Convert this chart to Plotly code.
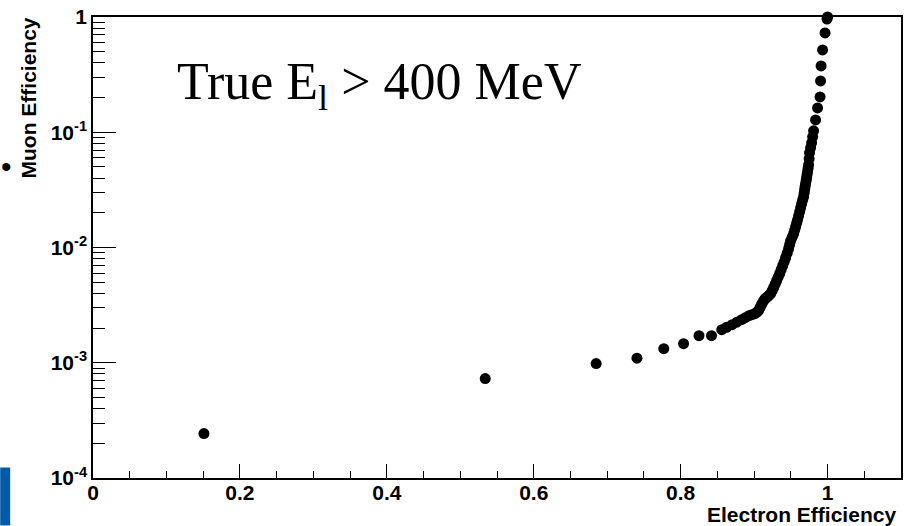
import plotly.graph_objects as go

# Electron efficiency (x) vs muon efficiency (y)
electron_eff = [0.151, 0.534, 0.685, 0.7405, 0.777, 0.804, 0.825, 0.842, 0.856, 0.8625,
                0.870, 0.8765, 0.883, 0.888, 0.893, 0.897, 0.901, 0.904, 0.906, 0.908,
                0.910, 0.912, 0.914, 0.916, 0.9185, 0.9205, 0.9226, 0.9246, 0.9266, 0.9287,
                0.9307, 0.9327, 0.9348, 0.9368, 0.9389, 0.941, 0.9429, 0.945, 0.947, 0.9484,
                0.9497, 0.9518, 0.9538, 0.9552, 0.9565, 0.9579, 0.9592, 0.9606, 0.962, 0.9633,
                0.9647, 0.966, 0.9674, 0.9681, 0.9688, 0.9694, 0.9701, 0.9708, 0.9715, 0.9721,
                0.9728, 0.9735, 0.9742, 0.9749, 0.9755, 0.9769, 0.9783, 0.9797, 0.981, 0.9837,
                0.9864, 0.9898, 0.9905, 0.9912, 0.9932, 0.9966, 0.9993, 1.0]
muon_eff = [2.43e-4, 7.29e-4, 9.83e-4, 1.096e-3, 1.326e-3, 1.465e-3, 1.718e-3, 1.718e-3, 1.937e-3, 2.03e-3,
            2.140e-3, 2.25e-3, 2.365e-3, 2.46e-3, 2.562e-3, 2.61e-3, 2.666e-3, 2.75e-3, 2.830e-3, 3.0e-3,
            3.190e-3, 3.36e-3, 3.524e-3, 3.63e-3, 3.741e-3, 3.86e-3, 3.972e-3, 4.22e-3, 4.478e-3, 4.80e-3,
            5.148e-3, 5.52e-3, 5.922e-3, 6.41e-3, 6.947e-3, 7.52e-3, 8.150e-3, 8.92e-3, 9.754e-3, 1.057e-2,
            1.144e-2, 1.227e-2, 1.316e-2, 1.411e-2, 1.513e-2, 1.623e-2, 1.740e-2, 1.884e-2, 2.041e-2, 2.21e-2,
            2.394e-2, 2.57e-2, 2.754e-2, 2.95e-2, 3.166e-2, 3.36e-2, 3.569e-2, 3.79e-2, 4.023e-2, 4.27e-2,
            4.535e-2, 4.86e-2, 5.215e-2, 5.877e-2, 6.627e-2, 7.32e-2, 8.088e-2, 9.12e-2, 0.1028, 0.1280,
            0.1627, 0.2025, 0.2788, 0.3761, 0.5176, 0.7268, 0.9610, 1.0]

x_tickvals = [0, 0.2, 0.4, 0.6, 0.8, 1.0]
x_ticktext = ["0", "0.2", "0.4", "0.6", "0.8", "1"]
y_tickvals = [1e-4, 1e-3, 1e-2, 1e-1, 1]
y_ticktext = ["10<sup>-4</sup>", "10<sup>-3</sup>", "10<sup>-2</sup>", "10<sup>-1</sup>", "1"]
y_minor = [k * 10.0 ** d for d in range(-4, 0) for k in range(2, 10)]
x_minor = [i * 0.05 for i in range(0, 23)]

label_text = "True E<sub>l</sub> &gt; 400 MeV"
x_title = "Electron Efficiency"
y_title = "Muon Efficiency"

SANS = "Liberation Sans, Arial, sans-serif"
SERIF = "Liberation Serif, Times New Roman, serif"

fig = go.Figure()
fig.add_trace(go.Scatter(
    x=electron_eff, y=muon_eff, mode="markers",
    marker=dict(symbol="circle", size=11, color="black", line=dict(width=0)),
    cliponaxis=False, showlegend=False,
))

fig.update_layout(
    width=908, height=526,
    margin=dict(l=93, r=5, t=17, b=48),
    paper_bgcolor="white", plot_bgcolor="white",
    showlegend=False,
    xaxis=dict(
        range=[0, 1.1], showgrid=False, zeroline=False,
        showline=True, mirror=True, linecolor="black", linewidth=1.5,
        tickmode="array", tickvals=x_tickvals, ticktext=x_ticktext,
        ticks="inside", ticklen=14, tickwidth=1.2, tickcolor="black",
        ticklabelstandoff=-5,
        tickfont=dict(family=SANS, size=21, color="black", weight="bold"),
        minor=dict(tickmode="array", tickvals=x_minor, ticks="inside",
                   ticklen=7, tickwidth=1.2, tickcolor="black", showgrid=False),
    ),
    yaxis=dict(
        type="log", range=[-4, 0], showgrid=False, zeroline=False,
        showline=True, mirror=True, linecolor="black", linewidth=1.5,
        tickmode="array", tickvals=y_tickvals, ticktext=y_ticktext,
        ticks="inside", ticklen=23, tickwidth=1.2, tickcolor="black",
        tickfont=dict(family=SANS, size=21, color="black", weight="bold"),
        minor=dict(tickmode="array", tickvals=y_minor, ticks="inside",
                   ticklen=12, tickwidth=1.2, tickcolor="black", showgrid=False),
    ),
)

fig.add_annotation(
    text=label_text, xref="paper", yref="paper", x=(175 - 93) / 809.6, y=(478.5 - 86) / 461.5,
    xanchor="left", yanchor="middle", showarrow=False,
    font=dict(family=SERIF, size=52, color="black"),
)
fig.add_annotation(
    text=x_title, xref="paper", yref="paper", x=1, y=0, xanchor="right", yanchor="middle",
    yshift=-36, xshift=-3, showarrow=False,
    font=dict(family=SANS, size=21, color="black", weight="bold"),
)
fig.add_annotation(
    text=y_title, xref="paper", yref="paper", x=0, y=1, xanchor="center", yanchor="top",
    xshift=-65, yshift=1, textangle=-90, showarrow=False,
    font=dict(family=SANS, size=21, color="black", weight="bold"),
)
# slide decorations
fig.add_annotation(
    text="•", xref="paper", yref="paper", x=(6 - 93) / 809.6, y=(478.5 - 167) / 461.5,
    xanchor="center", yanchor="middle", showarrow=False,
    font=dict(family=SANS, size=30, color="black"),
)
fig.add_shape(type="rect", xref="paper", yref="paper",
              x0=-93 / 809.6, x1=(10 - 93) / 809.6,
              y0=(478.5 - 526) / 461.5, y1=(478.5 - 468) / 461.5,
              fillcolor="#005BAA", line=dict(width=0), layer="above")

fig.write_html(
    "out.html",
    config={"displayModeBar": False},
    post_script="document.body.style.margin='0';document.body.style.overflow='hidden';",
)
